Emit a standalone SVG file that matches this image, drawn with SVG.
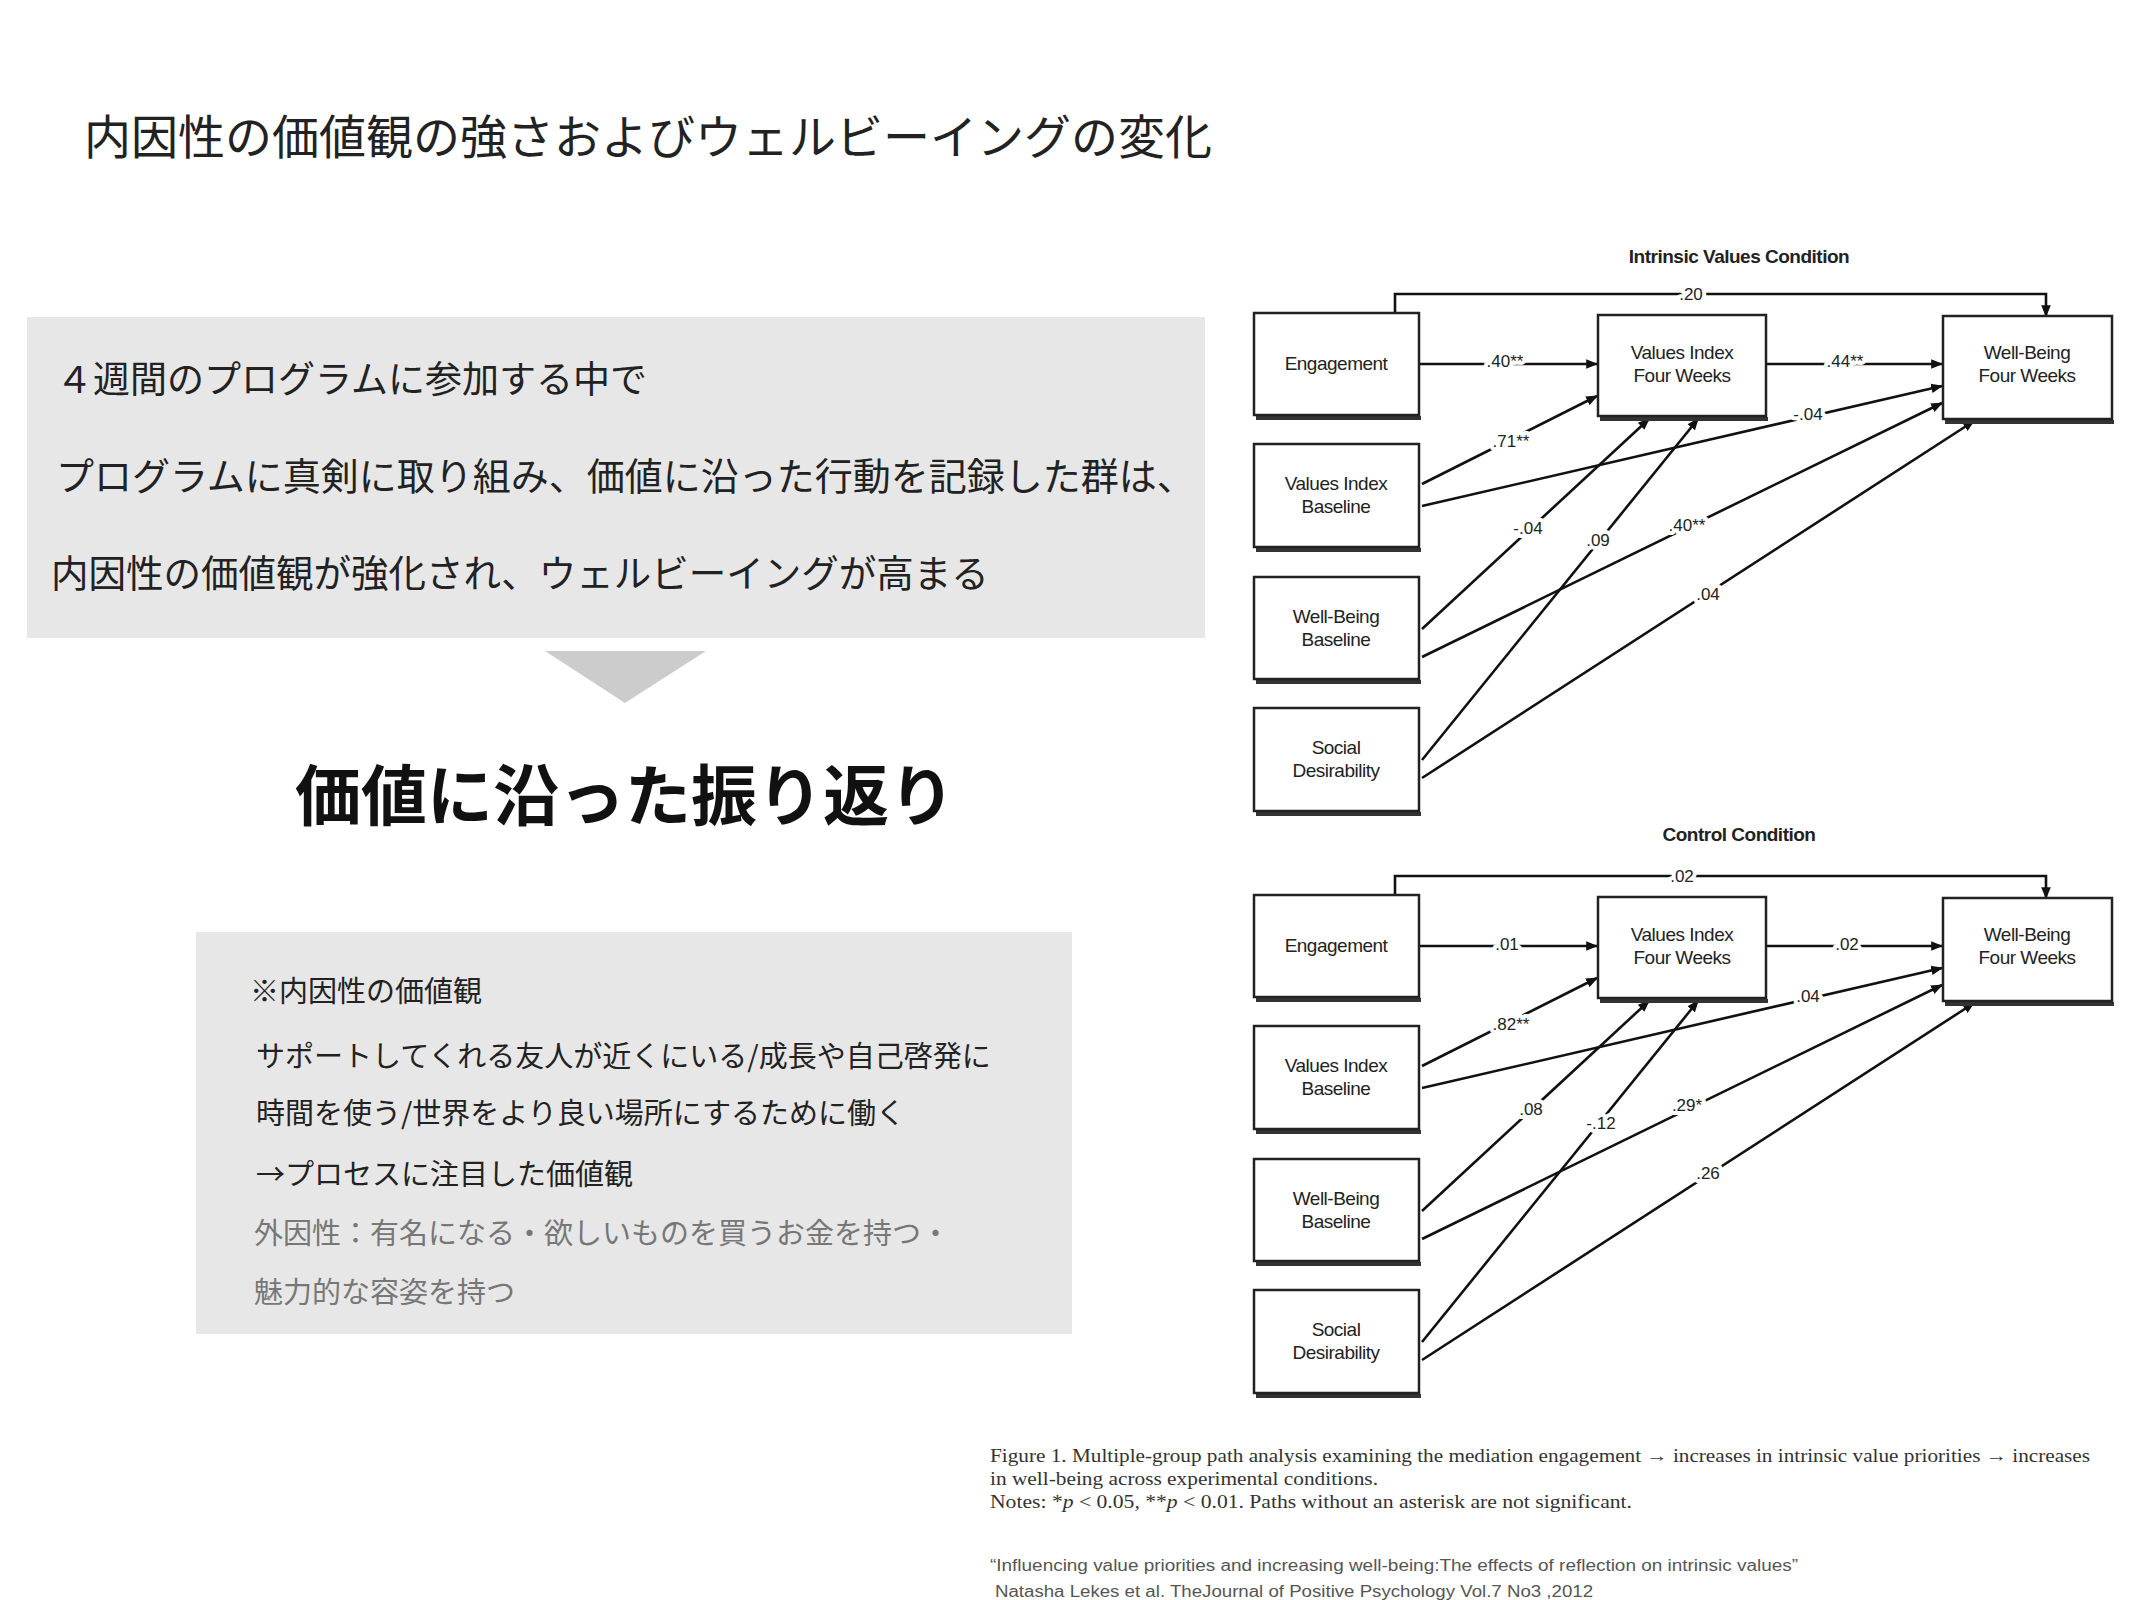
<svg xmlns="http://www.w3.org/2000/svg" width="2133" height="1600" viewBox="0 0 2133 1600">
<defs>
<marker id="ah2" viewBox="0 0 10 10" refX="9" refY="5" markerWidth="12" markerHeight="12" orient="auto" markerUnits="userSpaceOnUse"><path d="M0,1 L10,5 L0,9 z" fill="#111"/></marker>
</defs>
<style>
.jp{font-family:"Noto Sans CJK JP","Noto Sans",sans-serif;fill:#222}
.gr{fill:#777}
.box{fill:#fff;stroke:#222;stroke-width:2.5}
.sh{stroke:#333;stroke-width:4}
.nt{font-family:"Liberation Sans",Arial,sans-serif;font-size:19px;fill:#222;text-anchor:middle;letter-spacing:-0.5px}
.ttl{font-family:"Liberation Sans",Arial,sans-serif;font-size:19px;font-weight:bold;fill:#222;text-anchor:middle;letter-spacing:-0.5px}
.ln{stroke:#111;stroke-width:2.6;fill:none;marker-end:url(#ah2)}
.lb{font-family:"Liberation Sans",Arial,sans-serif;font-size:17px;fill:#222;text-anchor:middle;stroke:#fff;stroke-width:8px;paint-order:stroke;stroke-linejoin:round}
.cap{font-family:"Liberation Serif","Times New Roman",serif;font-size:19px;fill:#333}
.cit{font-family:"Liberation Sans",Arial,sans-serif;font-size:16px;fill:#555}
</style>
<rect width="2133" height="1600" fill="#fff"/>
<text class="jp" x="84" y="154" font-size="47">内因性の価値観の強さおよびウェルビーイングの変化</text>
<g id="box1">
<rect x="27" y="317" width="1178" height="321" fill="#e7e7e7"/>
<text class="jp" x="56" y="393" font-size="37">４週間のプログラムに参加する中で</text>
<text class="jp" x="56" y="490" font-size="38">プログラムに真剣に取り組み、価値に沿った行動を記録した群は、</text>
<text class="jp" x="51" y="587" font-size="37.5">内因性の価値観が強化され、ウェルビーイングが高まる</text>
</g>
<polygon points="545,651 706,651 625,703" fill="#cccccc"/>
<text class="jp" x="295" y="820" font-size="66" font-weight="bold" style="fill:#111">価値に沿った振り返り</text>
<g id="box2">
<rect x="196" y="932" width="876" height="402" fill="#e7e7e7"/>
<text class="jp" x="250" y="1002" font-size="29">※内因性の価値観</text>
<text class="jp" x="256" y="1067" font-size="29">サポートしてくれる友人が近くにいる/成長や自己啓発に</text>
<text class="jp" x="256" y="1124" font-size="29">時間を使う/世界をより良い場所にするために働く</text>
<text class="jp" x="256" y="1185" font-size="29">→プロセスに注目した価値観</text>
<text class="jp gr" x="254" y="1244" font-size="29">外因性：有名になる・欲しいものを買うお金を持つ・</text>
<text class="jp gr" x="254" y="1303" font-size="29">魅力的な容姿を持つ</text>
</g>
<text class="ttl" x="1739" y="263">Intrinsic Values Condition</text>
<text class="ttl" x="1739" y="841">Control Condition</text>
<g id="top">
<g id="connectors-top">
<path class="ln" d="M1395,313 V294 H2046 V316"/>
<path class="ln" d="M1419,364 H1597"/>
<path class="ln" d="M1766,364 H1942"/>
<path class="ln" d="M1422,484 L1597,396"/>
<path class="ln" d="M1422,506 L1942,386"/>
<path class="ln" d="M1422,629 L1649,419"/>
<path class="ln" d="M1422,657 L1942,403"/>
<path class="ln" d="M1422,760 L1698,419"/>
<path class="ln" d="M1422,778 L1974,421"/>
</g>
<g id="n-eng"><line class="sh" x1="1256" y1="418" x2="1421" y2="418"/><rect class="box" x="1254" y="313" width="165" height="102"/><text class="nt" x="1336" y="370">Engagement</text></g>
<g id="n-vifw"><line class="sh" x1="1600" y1="419" x2="1768" y2="419"/><rect class="box" x="1598" y="315" width="168" height="101"/><text class="nt" x="1682" y="359">Values Index</text><text class="nt" x="1682" y="382">Four Weeks</text></g>
<g id="n-wbfw"><line class="sh" x1="1945" y1="422" x2="2114" y2="422"/><rect class="box" x="1943" y="316" width="169" height="103"/><text class="nt" x="2027" y="359">Well-Being</text><text class="nt" x="2027" y="382">Four Weeks</text></g>
<g id="n-vib"><line class="sh" x1="1256" y1="550" x2="1421" y2="550"/><rect class="box" x="1254" y="444" width="165" height="103"/><text class="nt" x="1336" y="490">Values Index</text><text class="nt" x="1336" y="513">Baseline</text></g>
<g id="n-wbb"><line class="sh" x1="1256" y1="682" x2="1421" y2="682"/><rect class="box" x="1254" y="577" width="165" height="102"/><text class="nt" x="1336" y="623">Well-Being</text><text class="nt" x="1336" y="646">Baseline</text></g>
<g id="n-sd"><line class="sh" x1="1256" y1="814" x2="1421" y2="814"/><rect class="box" x="1254" y="708" width="165" height="103"/><text class="nt" x="1336" y="754">Social</text><text class="nt" x="1336" y="777">Desirability</text></g>
</g>
<g id="labels-top">
<text class="lb" x="1691" y="300">.20</text>
<text class="lb" x="1505" y="367">.40**</text>
<text class="lb" x="1845" y="367">.44**</text>
<text class="lb" x="1808" y="420">-.04</text>
<text class="lb" x="1511" y="447">.71**</text>
<text class="lb" x="1528" y="534">-.04</text>
<text class="lb" x="1598" y="546">.09</text>
<text class="lb" x="1687" y="531">.40**</text>
<text class="lb" x="1708" y="600">.04</text>
</g>
<g id="bottom" transform="translate(0,582)">
<g id="connectors-bottom">
<path class="ln" d="M1395,313 V294 H2046 V316"/>
<path class="ln" d="M1419,364 H1597"/>
<path class="ln" d="M1766,364 H1942"/>
<path class="ln" d="M1422,484 L1597,396"/>
<path class="ln" d="M1422,506 L1942,386"/>
<path class="ln" d="M1422,629 L1649,419"/>
<path class="ln" d="M1422,657 L1942,403"/>
<path class="ln" d="M1422,760 L1698,419"/>
<path class="ln" d="M1422,778 L1974,421"/>
</g>
<g id="c-eng"><line class="sh" x1="1256" y1="418" x2="1421" y2="418"/><rect class="box" x="1254" y="313" width="165" height="102"/><text class="nt" x="1336" y="370">Engagement</text></g>
<g id="c-vifw"><line class="sh" x1="1600" y1="419" x2="1768" y2="419"/><rect class="box" x="1598" y="315" width="168" height="101"/><text class="nt" x="1682" y="359">Values Index</text><text class="nt" x="1682" y="382">Four Weeks</text></g>
<g id="c-wbfw"><line class="sh" x1="1945" y1="422" x2="2114" y2="422"/><rect class="box" x="1943" y="316" width="169" height="103"/><text class="nt" x="2027" y="359">Well-Being</text><text class="nt" x="2027" y="382">Four Weeks</text></g>
<g id="c-vib"><line class="sh" x1="1256" y1="550" x2="1421" y2="550"/><rect class="box" x="1254" y="444" width="165" height="103"/><text class="nt" x="1336" y="490">Values Index</text><text class="nt" x="1336" y="513">Baseline</text></g>
<g id="c-wbb"><line class="sh" x1="1256" y1="682" x2="1421" y2="682"/><rect class="box" x="1254" y="577" width="165" height="102"/><text class="nt" x="1336" y="623">Well-Being</text><text class="nt" x="1336" y="646">Baseline</text></g>
<g id="c-sd"><line class="sh" x1="1256" y1="814" x2="1421" y2="814"/><rect class="box" x="1254" y="708" width="165" height="103"/><text class="nt" x="1336" y="754">Social</text><text class="nt" x="1336" y="777">Desirability</text></g>
</g>
<g id="labels-bottom">
<text class="lb" x="1682" y="882">.02</text>
<text class="lb" x="1507" y="950">.01</text>
<text class="lb" x="1847" y="950">.02</text>
<text class="lb" x="1808" y="1002">.04</text>
<text class="lb" x="1511" y="1030">.82**</text>
<text class="lb" x="1531" y="1115">.08</text>
<text class="lb" x="1601" y="1129">-.12</text>
<text class="lb" x="1687" y="1111">.29*</text>
<text class="lb" x="1708" y="1179">.26</text>
</g>
<text class="cap" x="990" y="1462" textLength="1100" lengthAdjust="spacingAndGlyphs">Figure 1.  Multiple-group path analysis examining the mediation engagement → increases in intrinsic value priorities → increases</text>
<text class="cap" x="990" y="1485" textLength="388" lengthAdjust="spacingAndGlyphs">in well-being across experimental conditions.</text>
<text class="cap" x="990" y="1508" textLength="642" lengthAdjust="spacingAndGlyphs">Notes: *<tspan font-style="italic">p</tspan> &lt; 0.05, **<tspan font-style="italic">p</tspan> &lt; 0.01. Paths without an asterisk are not significant.</text>
<text class="cit" x="990" y="1571" textLength="808" lengthAdjust="spacingAndGlyphs">“Influencing value priorities and increasing well-being:The effects of reflection on intrinsic values”</text>
<text class="cit" x="995" y="1597" textLength="598" lengthAdjust="spacingAndGlyphs">Natasha Lekes et al. TheJournal of Positive Psychology Vol.7 No3 ,2012</text>
</svg>
